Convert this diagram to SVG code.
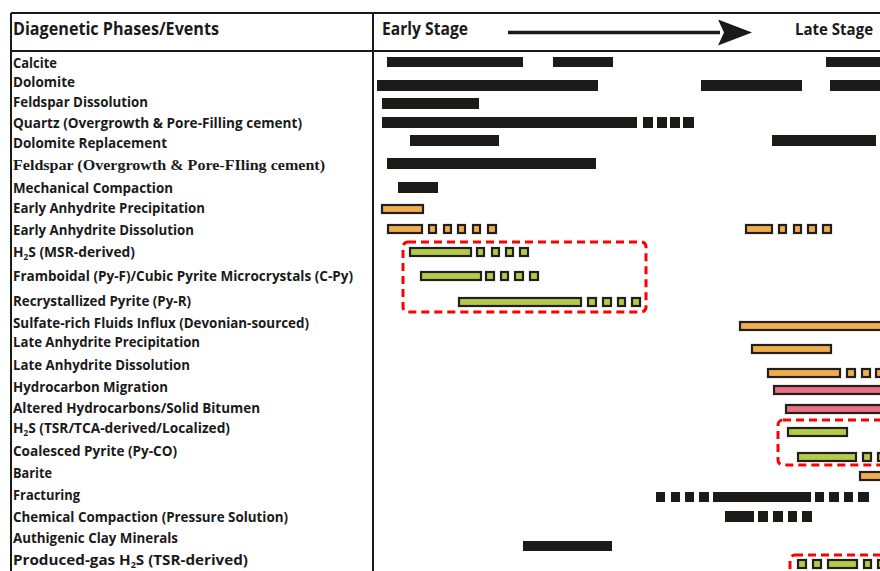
<svg xmlns="http://www.w3.org/2000/svg" width="880" height="571" viewBox="0 0 880 571">
<defs>
<style>
.lbl{font-family:"Open Sans",Lato,"Liberation Sans",sans-serif;font-weight:bold;font-size:13.5px;fill:#1a1a1a}
.ser{font-family:"Liberation Serif","DejaVu Serif",serif;font-weight:bold;font-size:15px;fill:#1a1a1a}
.hdr{font-family:"Open Sans",Lato,"Liberation Sans",sans-serif;font-weight:bold;font-size:17px;fill:#1a1a1a}
.sub{font-size:8px}
.blk{fill:#1d1b19}
.org{fill:#F1AE4F;stroke:#231F20;stroke-width:2.2}
.grn{fill:#B3CB47;stroke:#231F20;stroke-width:2.2}
.pnk{fill:#E7717F;stroke:#231F20;stroke-width:2.2}
.box{fill:none;stroke:#FF0000;stroke-width:3;stroke-dasharray:8 5}
.grid{stroke:#1a1a1a;stroke-width:2;fill:none}
</style>
<marker id="ah" viewBox="0 0 34 26" refX="2" refY="13" markerWidth="34" markerHeight="26" markerUnits="userSpaceOnUse" orient="auto"><path d="M0,0 L34,13 L0,26 L6,13 Z" fill="#1a1a1a"/></marker>
</defs>
<rect width="880" height="571" fill="#fff"/>
<g id="table">
<path class="grid" d="M11,13 H882 M11,51 H882 M11,13 V575 M373,13 V575"/>
</g>
<g id="header">
<text class="hdr" x="13" y="35" textLength="206" lengthAdjust="spacingAndGlyphs">Diagenetic Phases/Events</text>
<text class="hdr" x="382" y="35" textLength="86" lengthAdjust="spacingAndGlyphs">Early Stage</text>
<text class="hdr" x="795" y="35" style="font-size:15.5px" textLength="78" lengthAdjust="spacingAndGlyphs">Late Stage</text>
</g>
<g id="connectors">
<line x1="508" y1="32.5" x2="720" y2="32.5" stroke="#1a1a1a" stroke-width="3.5" marker-end="url(#ah)"/>
</g>
<g id="row-calcite">
<text class="lbl" x="13" y="68" textLength="44" lengthAdjust="spacingAndGlyphs">Calcite</text>
<rect class="blk" x="387" y="57" width="136" height="10"/><rect class="blk" x="553" y="57" width="60" height="10"/><rect class="blk" x="826" y="57" width="60" height="10"/>
</g>
<g id="row-dolomite">
<text class="lbl" x="13" y="87" textLength="62" lengthAdjust="spacingAndGlyphs">Dolomite</text>
<rect class="blk" x="377" y="80" width="221" height="11"/><rect class="blk" x="701" y="80" width="101" height="11"/><rect class="blk" x="830" y="80" width="56" height="11"/>
</g>
<g id="row-feldspar-dissolution">
<text class="lbl" x="13" y="107" textLength="135" lengthAdjust="spacingAndGlyphs">Feldspar Dissolution</text>
<rect class="blk" x="382" y="98" width="97" height="11"/>
</g>
<g id="row-quartz">
<text class="lbl" x="13" y="128" textLength="289" lengthAdjust="spacingAndGlyphs">Quartz (Overgrowth &amp; Pore-Filling cement)</text>
<rect class="blk" x="382" y="117" width="255" height="11"/><rect class="blk" x="643" y="117" width="10" height="11"/><rect class="blk" x="657" y="117" width="10" height="11"/><rect class="blk" x="670" y="117" width="10" height="11"/><rect class="blk" x="683" y="117" width="11" height="11"/>
</g>
<g id="row-dolomite-replacement">
<text class="lbl" x="13" y="148" textLength="154" lengthAdjust="spacingAndGlyphs">Dolomite Replacement</text>
<rect class="blk" x="410" y="135" width="89" height="11"/><rect class="blk" x="772" y="135" width="104" height="11"/>
</g>
<g id="row-feldspar-overgrowth">
<text class="ser" x="13" y="170" textLength="312" lengthAdjust="spacingAndGlyphs">Feldspar (Overgrowth &amp; Pore-FIling cement)</text>
<rect class="blk" x="387" y="158" width="209" height="11"/>
</g>
<g id="row-mechanical-compaction">
<text class="lbl" x="13" y="193" textLength="160" lengthAdjust="spacingAndGlyphs">Mechanical Compaction</text>
<rect class="blk" x="398" y="182" width="40" height="11"/>
</g>
<g id="row-early-anhydrite-precipitation">
<text class="lbl" x="13" y="213" textLength="192" lengthAdjust="spacingAndGlyphs">Early Anhydrite Precipitation</text>
<rect class="org" x="382" y="205" width="41" height="8"/>
</g>
<g id="row-early-anhydrite-dissolution">
<text class="lbl" x="13" y="235" textLength="181" lengthAdjust="spacingAndGlyphs">Early Anhydrite Dissolution</text>
<rect class="org" x="388" y="225" width="34" height="8"/><rect class="org" x="429" y="225" width="7" height="8"/><rect class="org" x="444" y="225" width="7" height="8"/><rect class="org" x="458" y="225" width="7" height="8"/><rect class="org" x="473" y="225" width="7" height="8"/><rect class="org" x="488" y="225" width="8" height="8"/>
<rect class="org" x="746" y="225" width="26" height="8"/><rect class="org" x="779" y="225" width="7" height="8"/><rect class="org" x="794" y="225" width="7" height="8"/><rect class="org" x="808" y="225" width="8" height="8"/><rect class="org" x="823" y="225" width="8" height="8"/>
</g>
<g id="row-h2s-msr">
<text class="lbl" x="13" y="257" textLength="122" lengthAdjust="spacingAndGlyphs">H<tspan class="sub" dy="3">2</tspan><tspan dy="-3">S (MSR-derived)</tspan></text>
<rect class="grn" x="410" y="248" width="61" height="8"/><rect class="grn" x="477" y="248" width="7" height="8"/><rect class="grn" x="492" y="248" width="7" height="8"/><rect class="grn" x="506" y="248" width="7" height="8"/><rect class="grn" x="520" y="248" width="8" height="8"/>
</g>
<g id="row-framboidal">
<text class="lbl" x="13" y="281" textLength="340" lengthAdjust="spacingAndGlyphs">Framboidal (Py-F)/Cubic Pyrite Microcrystals (C-Py)</text>
<rect class="grn" x="421" y="272" width="60" height="8"/><rect class="grn" x="486" y="272" width="8" height="8"/><rect class="grn" x="501" y="272" width="7" height="8"/><rect class="grn" x="515" y="272" width="8" height="8"/><rect class="grn" x="530" y="272" width="8" height="8"/>
</g>
<g id="row-recrystallized-pyrite">
<text class="lbl" x="13" y="306" textLength="178" lengthAdjust="spacingAndGlyphs">Recrystallized Pyrite (Py-R)</text>
<rect class="grn" x="459" y="298" width="122" height="8"/><rect class="grn" x="588" y="298" width="8" height="8"/><rect class="grn" x="603" y="298" width="8" height="8"/><rect class="grn" x="618" y="298" width="7" height="8"/><rect class="grn" x="632" y="298" width="8" height="8"/>
</g>
<g id="row-sulfate-influx">
<text class="lbl" x="13" y="328" textLength="296" lengthAdjust="spacingAndGlyphs">Sulfate-rich Fluids Influx (Devonian-sourced)</text>
<rect class="org" x="740" y="322" width="150" height="8"/>
</g>
<g id="row-late-anhydrite-precipitation">
<text class="lbl" x="13" y="347" textLength="187" lengthAdjust="spacingAndGlyphs">Late Anhydrite Precipitation</text>
<rect class="org" x="752" y="345" width="79" height="8"/>
</g>
<g id="row-late-anhydrite-dissolution">
<text class="lbl" x="13" y="370" textLength="177" lengthAdjust="spacingAndGlyphs">Late Anhydrite Dissolution</text>
<rect class="org" x="768" y="369" width="72" height="8"/><rect class="org" x="847" y="369" width="8" height="8"/><rect class="org" x="862" y="369" width="8" height="8"/><rect class="org" x="876" y="369" width="8" height="8"/>
</g>
<g id="row-hydrocarbon-migration">
<text class="lbl" x="13" y="392" textLength="155" lengthAdjust="spacingAndGlyphs">Hydrocarbon Migration</text>
<rect class="pnk" x="774" y="386" width="120" height="8"/>
</g>
<g id="row-altered-hydrocarbons">
<text class="lbl" x="13" y="413" textLength="247" lengthAdjust="spacingAndGlyphs">Altered Hydrocarbons/Solid Bitumen</text>
<rect class="pnk" x="786" y="405" width="110" height="8"/>
</g>
<g id="row-h2s-tsr">
<text class="lbl" x="13" y="433" textLength="217" lengthAdjust="spacingAndGlyphs">H<tspan class="sub" dy="3">2</tspan><tspan dy="-3">S (TSR/TCA-derived/Localized)</tspan></text>
<rect class="grn" x="788" y="428" width="59" height="8"/>
</g>
<g id="row-coalesced-pyrite">
<text class="lbl" x="13" y="456" textLength="164" lengthAdjust="spacingAndGlyphs">Coalesced Pyrite (Py-CO)</text>
<rect class="grn" x="798" y="453" width="58" height="8"/><rect class="grn" x="863" y="453" width="8" height="8"/><rect class="grn" x="878" y="453" width="8" height="8"/>
</g>
<g id="row-barite">
<text class="lbl" x="13" y="478" textLength="39" lengthAdjust="spacingAndGlyphs">Barite</text>
<rect class="org" x="860" y="472" width="30" height="8"/>
</g>
<g id="row-fracturing">
<text class="lbl" x="13" y="500" textLength="67" lengthAdjust="spacingAndGlyphs">Fracturing</text>
<rect class="blk" x="656" y="492" width="9" height="10"/><rect class="blk" x="671" y="492" width="9" height="10"/><rect class="blk" x="685" y="492" width="9" height="10"/><rect class="blk" x="699" y="492" width="10" height="10"/><rect class="blk" x="713" y="492" width="98" height="10"/><rect class="blk" x="815" y="492" width="9" height="10"/><rect class="blk" x="829" y="492" width="10" height="10"/><rect class="blk" x="844" y="492" width="9" height="10"/><rect class="blk" x="858" y="492" width="11" height="10"/>
</g>
<g id="row-chemical-compaction">
<text class="lbl" x="13" y="522" textLength="275" lengthAdjust="spacingAndGlyphs">Chemical Compaction (Pressure Solution)</text>
<rect class="blk" x="725" y="511" width="29" height="11"/><rect class="blk" x="758" y="511" width="10" height="11"/><rect class="blk" x="773" y="511" width="10" height="11"/><rect class="blk" x="788" y="511" width="9" height="11"/><rect class="blk" x="802" y="511" width="10" height="11"/>
</g>
<g id="row-authigenic-clay">
<text class="lbl" x="13" y="543" textLength="165" lengthAdjust="spacingAndGlyphs">Authigenic Clay Minerals</text>
<rect class="blk" x="523" y="541" width="89" height="10"/>
</g>
<g id="row-produced-gas-h2s">
<text class="lbl" x="13" y="565" textLength="235" lengthAdjust="spacingAndGlyphs">Produced-gas H<tspan class="sub" dy="3">2</tspan><tspan dy="-3">S (TSR-derived)</tspan></text>
<rect class="grn" x="798" y="560" width="8" height="8"/><rect class="grn" x="813" y="560" width="8" height="8"/><rect class="grn" x="828" y="560" width="29" height="8"/><rect class="grn" x="864" y="560" width="7" height="8"/><rect class="grn" x="878" y="560" width="8" height="8"/>
</g>
<g id="highlight-boxes">
<rect class="box" x="403" y="242" width="243" height="70" rx="5"/>
<rect class="box" x="778" y="420" width="120" height="45" rx="5"/>
<rect class="box" x="790" y="555" width="100" height="30" rx="5"/>
</g>
</svg>
